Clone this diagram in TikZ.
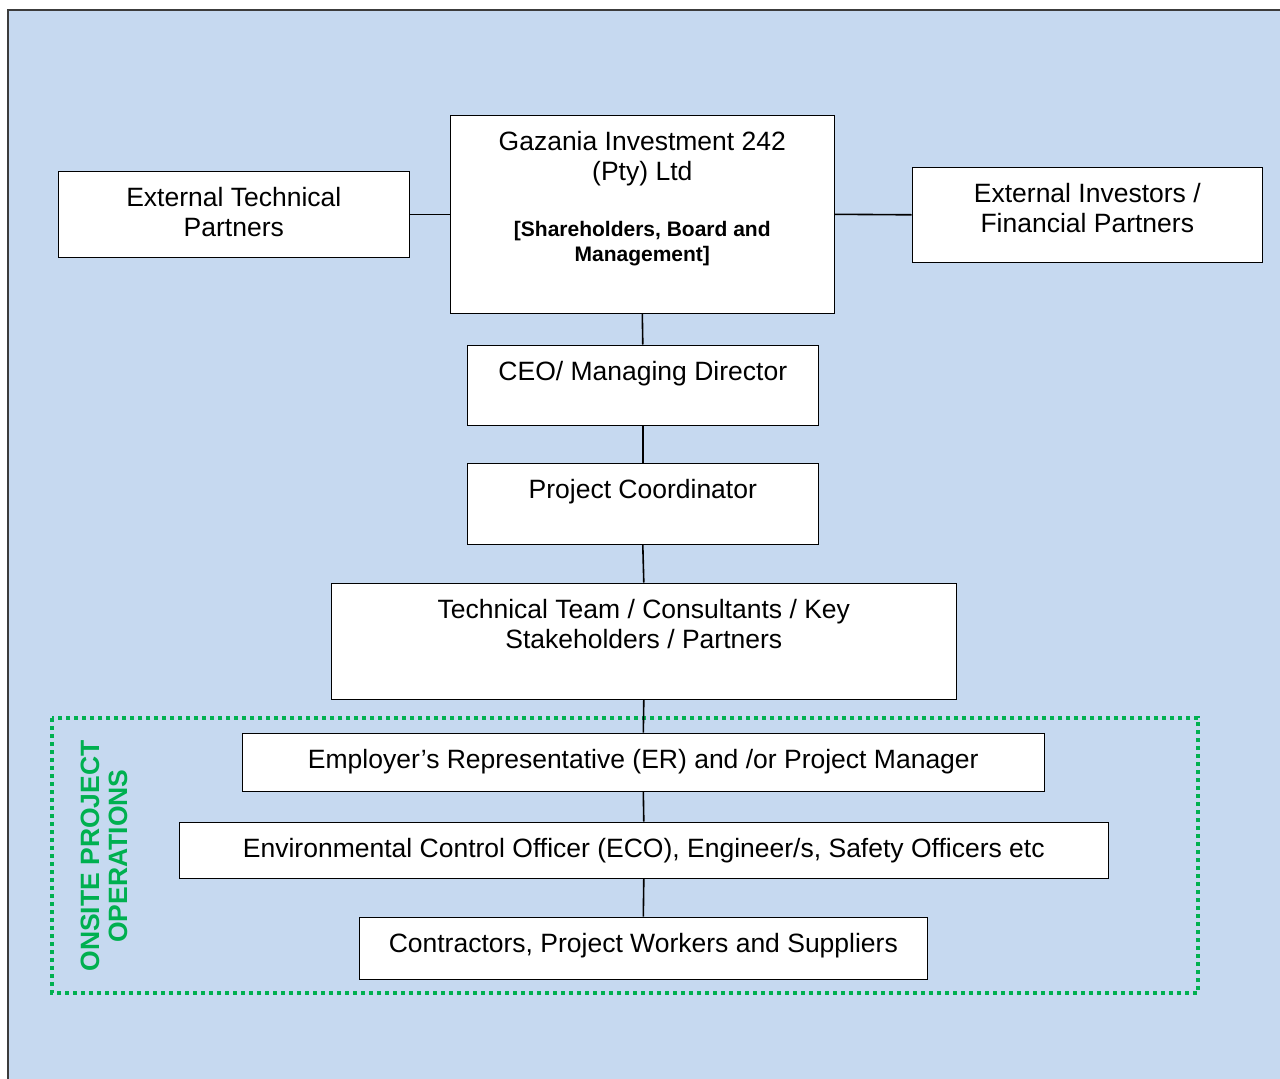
\documentclass[tikz,border=0pt]{standalone}
\usepackage{fontspec}
\setmainfont{Liberation Sans}
\definecolor{chartblue}{RGB}{198,217,240}
\definecolor{opsgreen}{RGB}{0,176,80}
\definecolor{framegray}{RGB}{60,60,60}
\newcommand{\boxtext}[3]{\parbox[c][#2][t]{#1}{\centering\vspace*{13.5pt}\strut #3\par}}
\tikzset{
  orgbox/.style={draw, line width=1.6pt, fill=white, inner sep=0pt, anchor=north west,
    font=\fontsize{26.5}{30.5}\selectfont},
  link/.style={line width=1.6pt}
}

\begin{document}
\begin{tikzpicture}[x=1pt,y=-1pt]
                \useasboundingbox (0,0) rectangle (1280,1079);
                \fill[chartblue] (8,10) rectangle (1280,1079);
                \draw[framegray, line width=2pt] (8,1079) -- (8,10) -- (1280,10);
                \draw[opsgreen, line width=3.5pt, dash pattern=on 4pt off 4pt] (52,718) rectangle (1198,993);
                \node[opsgreen, rotate=90, align=center, font=\bfseries\fontsize{26.5}{28}\selectfont] (onsite) at (104,856) {ONSITE PROJECT\\OPERATIONS};
                \node[orgbox] (tech) at (57.5,170.5) {\boxtext{351pt}{86pt}{External Technical\\ Partners}};
                \node[orgbox] (gazania) at (449.5,114.5) {\boxtext{384pt}{198pt}{Gazania Investment 242\\ (Pty) Ltd\par\vspace{31pt}{\bfseries\fontsize{21}{25}\selectfont [Shareholders, Board and\\ Management]\par}}};
                \node[orgbox] (investors) at (911.5,166.5) {\boxtext{350pt}{95pt}{External Investors /\\ Financial Partners}};
                \node[orgbox] (ceo) at (466.5,344.5) {\boxtext{351pt}{80pt}{CEO/ Managing Director}};
                \node[orgbox] (coord) at (466.5,462.5) {\boxtext{351pt}{81pt}{Project Coordinator}};
                \node[orgbox] (team) at (330.5,582.5) {\boxtext{625pt}{116pt}{Technical Team / Consultants / Key\\ Stakeholders / Partners}};
                \node[orgbox] (er) at (241.5,732.5) {\boxtext{802pt}{58pt}{Employer’s Representative (ER) and /or Project Manager}};
                \node[orgbox] (eco) at (178.5,821.5) {\boxtext{929pt}{56pt}{Environmental Control Officer (ECO), Engineer/s, Safety Officers etc}};
                \node[orgbox] (contractors) at (358.5,916.5) {\boxtext{568pt}{62pt}{Contractors, Project Workers and Suppliers}};
                \draw[link] (tech.east) -- (gazania.west);
                \draw[link] (gazania.east) -- (investors.west);
                \draw[link] (gazania.south) -- (ceo.north);
                \draw[link] (ceo.south) -- (coord.north);
                \draw[link] (coord.south) -- (team.north);
                \draw[link] (team.south) -- (er.north);
                \draw[link] (er.south) -- (eco.north);
                \draw[link] (eco.south) -- (contractors.north);
            \end{tikzpicture}
\end{document}
